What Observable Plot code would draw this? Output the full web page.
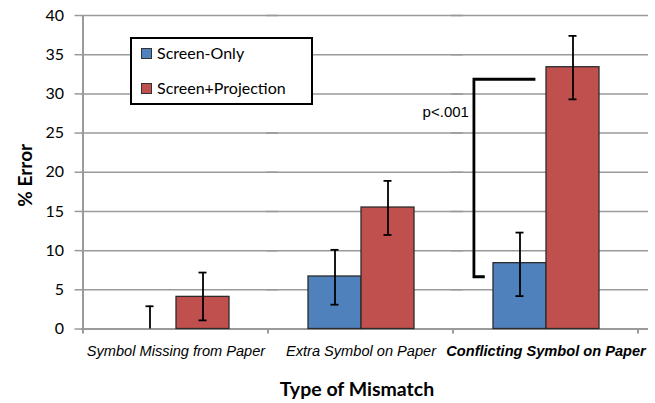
<!DOCTYPE html>
<html><head><meta charset="utf-8">
<script src="https://cdn.jsdelivr.net/npm/d3@7"></script>
<script src="https://cdn.jsdelivr.net/npm/@observablehq/plot@0.6"></script>
<style>
body{margin:0;background:#fff;}
#chart{position:relative;width:655px;height:403px;overflow:hidden;}
.legend{position:absolute;left:130px;top:37px;width:179px;height:64px;border:2px solid #000;background:#fff;font-family:Lato,sans-serif;font-size:16px;color:#000;}
.legend .sw{position:absolute;left:9px;width:9px;height:9px;border:1px solid #333;}
.legend .lb{position:absolute;left:25px;line-height:20px;white-space:nowrap;}
</style></head><body><div id="chart"></div>
<script>
const categories = ["Symbol Missing from Paper", "Extra Symbol on Paper", "Conflicting Symbol on Paper"];
const series = ["Screen-Only", "Screen+Projection"];
const screenOnly = [0, 6.7, 8.4];
const screenOnlyLow = [0, 3.1, 4.2];
const screenOnlyHigh = [2.9, 10.1, 12.3];
const screenProj = [4.1, 15.5, 33.4];
const screenProjLow = [1.1, 12.0, 29.3];
const screenProjHigh = [7.2, 18.9, 37.4];
const yTicks = [0, 5, 10, 15, 20, 25, 30, 35, 40];
const colors = ["#4F81BD", "#C0504D"];
const bracketCategory = 2;
const bracketTop = 31.8;
const bracketBottom = 6.6;
const bracketLabel = "p<.001";
const bracketLabelY = 27.6;
const xTitle = "Type of Mismatch";
const yTitle = "% Error";

const data = categories.flatMap((c, i) => [
  {category: c, series: series[0], value: screenOnly[i], lo: screenOnlyLow[i], hi: screenOnlyHigh[i]},
  {category: c, series: series[1], value: screenProj[i], lo: screenProjLow[i], hi: screenProjHigh[i]}
]);

function annotation(index, scales, values, dims) {
  const {fx, x, y} = scales;
  const g = d3.create("svg:g");
  const y0 = y(0);
  // left axis line
  g.append("line").attr("x1", dims.marginLeft).attr("x2", dims.marginLeft)
    .attr("y1", y(yTicks[yTicks.length - 1])).attr("y2", y0 + 5)
    .attr("stroke", "#9a9a9a").attr("stroke-width", 2);
  // category boundary ticks
  const tx = [...categories.slice(1).map(d => fx(d)), dims.width - dims.marginRight];
  for (const t of tx) {
    g.append("line").attr("x1", t).attr("x2", t).attr("y1", y0).attr("y2", y0 + 5)
      .attr("stroke", "#9a9a9a").attr("stroke-width", 2);
  }
  // significance bracket
  const c = categories[bracketCategory];
  const bw = x.bandwidth();
  const x0 = x.range()[0];
  const bx = fx(c) + x(series[0]) - x0;
  const rx = fx(c) + x(series[1]) - x0;
  const vx = bx - 0.36 * bw;
  g.append("path")
    .attr("d", `M${rx - 0.2 * bw},${y(bracketTop)}H${vx}V${y(bracketBottom)}H${bx - 0.155 * bw}`)
    .attr("fill", "none").attr("stroke", "#000").attr("stroke-width", 2.8);
  g.append("text").attr("x", vx - 5).attr("y", y(bracketLabelY)).attr("dy", "0.35em")
    .attr("text-anchor", "end").attr("font-family", "Liberation Sans").attr("font-size", 15)
    .text(bracketLabel);
  return g.node();
}

const chart = Plot.plot({
  width: 655, height: 403,
  marginLeft: 80, marginRight: 7, marginTop: 15, marginBottom: 74.5,
  style: {fontFamily: "Lato", fontSize: "16px", background: "#fff", color: "#000"},
  fx: {domain: categories, range: [81.5, 638.5], padding: 0, axis: null},
  x: {domain: series, paddingInner: 0, paddingOuter: 0.72, axis: null},
  y: {domain: [0, 40], axis: null},
  color: {domain: series, range: colors},
  marks: [
    Plot.gridY(yTicks, {stroke: "#9a9a9a", strokeOpacity: 1, strokeWidth: 1.5, insetLeft: -2, insetRight: -10}),
    Plot.axisY(yTicks, {tickSize: 7, tickPadding: 11, fontSize: 16, stroke: "#9a9a9a", strokeWidth: 1.5, label: null, dx: -1.5}),
    Plot.ruleY([0], {stroke: "#9a9a9a", strokeWidth: 2, insetLeft: -2, insetRight: -10}),
    Plot.barY(data, {filter: d => d.value > 0, fx: "category", x: "series", y: "value", fill: "series", stroke: "#2b2b2b", strokeWidth: 1.3}),
    Plot.ruleX(data, {fx: "category", x: "series", y1: "lo", y2: "hi", stroke: "#000", strokeWidth: 1.8}),
    Plot.tickY(data, {fx: "category", x: "series", y: "hi", insetLeft: 22.5, insetRight: 22.5, stroke: "#000", strokeWidth: 1.8}),
    Plot.tickY(data, {filter: d => d.lo > 0, fx: "category", x: "series", y: "lo", insetLeft: 22.5, insetRight: 22.5, stroke: "#000", strokeWidth: 1.8}),
    Plot.text(categories.slice(0, 2), {fx: d => d, text: d => d, frameAnchor: "bottom", lineAnchor: "middle", dy: 22.5, fontStyle: "italic", fontFamily: "Liberation Sans", fontSize: 14.6}),
    Plot.text(categories.slice(2), {fx: d => d, text: d => d, frameAnchor: "bottom", lineAnchor: "middle", dy: 22.5, fontStyle: "italic", fontWeight: "bold", fontFamily: "Liberation Sans", fontSize: 14.6}),
    Plot.text([xTitle], {facet: "super", text: d => d, frameAnchor: "bottom", lineAnchor: "middle", textAnchor: "middle", dy: 60.5, dx: -4, fontWeight: "bold", fontSize: 19.5}),
    Plot.text([yTitle], {facet: "super", text: d => d, frameAnchor: "left", textAnchor: "middle", lineAnchor: "middle", rotate: -90, dx: -58, dy: 3, fontWeight: "bold", fontSize: 19}),
    Plot.text([bracketLabel], {facet: "super", frameAnchor: "middle", text: d => d, render: (index, scales, values, dims) => annotation(index, scales, values, dims)})
  ]
});

const root = document.getElementById("chart");
root.appendChild(chart);
const legend = document.createElement("div");
legend.className = "legend";
series.forEach((s, i) => {
  const sw = document.createElement("div");
  sw.className = "sw";
  sw.style.top = (9 + i * 35) + "px";
  sw.style.background = colors[i];
  const lb = document.createElement("div");
  lb.className = "lb";
  lb.style.top = (4 + i * 35) + "px";
  lb.textContent = s;
  legend.appendChild(sw);
  legend.appendChild(lb);
});
root.appendChild(legend);
</script>
</body></html>
